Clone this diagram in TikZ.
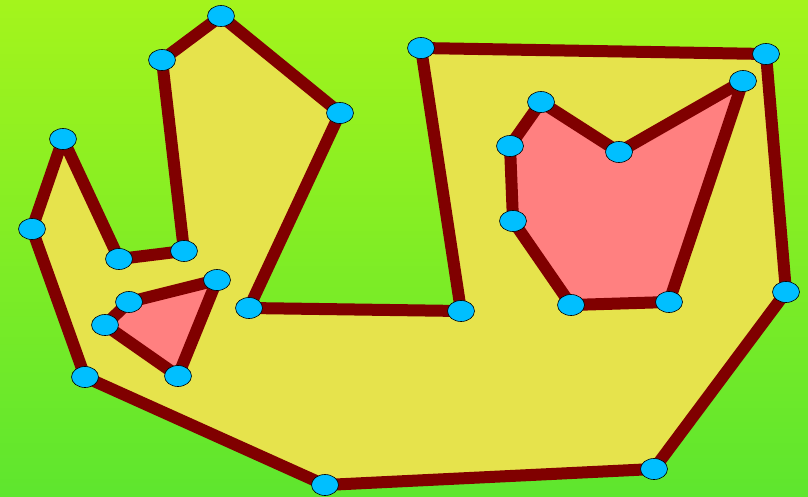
\documentclass[tikz,border=0pt]{standalone}
\usetikzlibrary{shapes.geometric}
\definecolor{bgTop}{RGB}{164,244,28}
\definecolor{bgBottom}{RGB}{94,230,46}
\definecolor{regionFill}{RGB}{230,227,76}
\definecolor{holeFill}{RGB}{255,128,128}
\definecolor{edgeRed}{RGB}{128,0,0}
\definecolor{vertexBlue}{RGB}{0,191,255}
\tikzset{
  poly/edge/.style={draw=edgeRed, line width=12pt, line join=round},
  poly/vert/.style={ellipse, draw=black, fill=vertexBlue, line width=0.6pt,
    minimum width=27pt, minimum height=21pt, inner sep=0pt}
}
\begin{document}
\begin{tikzpicture}[x=1pt, y=-1pt]
  \shade[top color=bgTop, bottom color=bgBottom] (0,0) rectangle (808,496);
  \useasboundingbox (0,0) rectangle (808,496);
  % outer boundary
  \foreach \n/\x/\y in {o1/63/139, o2/32/229, o3/85/377, o4/325/485,
      o5/654/469, o6/786/292, o7/766/54, o8/421/48, o9/461/311,
      o10/249/308, o11/340/113, o12/221/16, o13/162/60, o14/184/251,
      o15/119/259}
    \coordinate (\n) at (\x,\y);
  % small hole
  \foreach \n/\x/\y in {a1/129/302, a2/217/280, a3/178/376, a4/105/325}
    \coordinate (\n) at (\x,\y);
  % large hole
  \foreach \n/\x/\y in {b1/541/102, b2/619/152, b3/743/81, b4/669/302,
      b5/571/305, b6/513/221, b7/510/146}
    \coordinate (\n) at (\x,\y);
  \fill[regionFill] (o1) -- (o2) -- (o3) -- (o4) -- (o5) -- (o6) -- (o7)
    -- (o8) -- (o9) -- (o10) -- (o11) -- (o12) -- (o13) -- (o14) -- (o15)
    -- cycle;
  \fill[holeFill] (a1) -- (a2) -- (a3) -- (a4) -- cycle;
  \fill[holeFill] (b1) -- (b2) -- (b3) -- (b4) -- (b5) -- (b6) -- (b7)
    -- cycle;
  \draw[poly/edge] (o1) -- (o2) -- (o3) -- (o4) -- (o5) -- (o6) -- (o7)
    -- (o8) -- (o9) -- (o10) -- (o11) -- (o12) -- (o13) -- (o14) -- (o15)
    -- cycle;
  \draw[poly/edge] (a1) -- (a2) -- (a3) -- (a4) -- cycle;
  \draw[poly/edge] (b1) -- (b2) -- (b3) -- (b4) -- (b5) -- (b6) -- (b7)
    -- cycle;
  % vertices
  \foreach \n in {o1,o2,o3,o4,o5,o6,o7,o8,o9,o10,o11,o12,o13,o14,o15,
      a1,a2,a3,a4,b1,b2,b3,b4,b5,b6,b7}
    \node[poly/vert] (v\n) at (\n) {};
\end{tikzpicture}
\end{document}
